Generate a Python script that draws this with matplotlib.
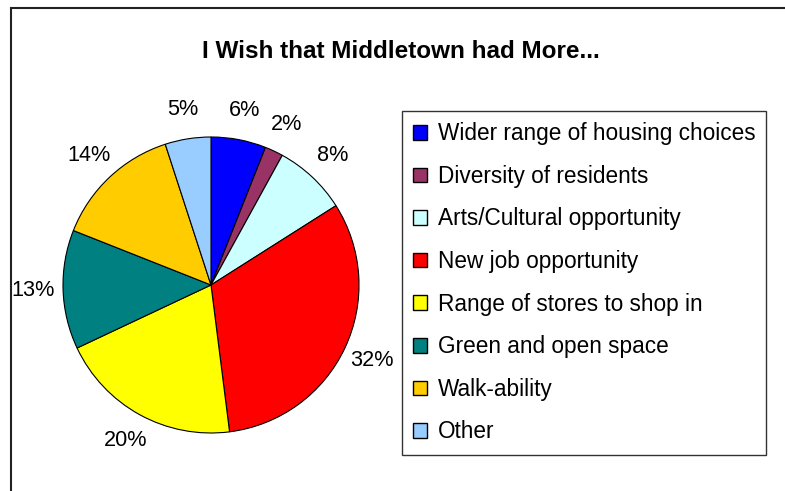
import matplotlib.pyplot as plt
from matplotlib.patches import Rectangle

plt.rcParams['font.family'] = ['Liberation Sans', 'DejaVu Sans']

categories = ["Wider range of housing choices", "Diversity of residents",
              "Arts/Cultural opportunity", "New job opportunity",
              "Range of stores to shop in", "Green and open space",
              "Walk-ability", "Other"]
shares = [6, 2, 8, 32, 20, 13, 14, 5]
colors = ["#0000FF", "#993366", "#CCFFFF", "#FF0000",
          "#FFFF00", "#008080", "#FFCC00", "#99CCFF"]

W, H = 785, 491
fig = plt.figure(figsize=(W / 100, H / 100), dpi=100)

# outer chart frame (runs off the right and bottom edge)
fig.add_artist(Rectangle((11 / W, -0.2), 1.2, 1.2 - 8 / H,
                         transform=fig.transFigure, fill=False,
                         edgecolor="#222222", linewidth=1.5))

fig.text(401 / W, 1 - 51 / H, "I Wish that Middletown had More...",
         ha="center", va="center", fontsize=17.5, fontweight="bold")

cx, cy, r = 211, 285, 148
ax = fig.add_axes([(cx - r) / W, (H - cy - r) / H, 2 * r / W, 2 * r / H])
wedges, _, pcts = ax.pie(shares, colors=colors, startangle=90, counterclock=False,
                         autopct="%d%%", pctdistance=1.2,
                         wedgeprops=dict(edgecolor="black", linewidth=0.8),
                         textprops=dict(fontsize=15.6))
ax.set_xlim(-1, 1)
ax.set_ylim(-1, 1)
ax.set_aspect("equal")

leg = fig.legend(wedges, categories, loc="upper left",
                 bbox_to_anchor=(402 / W, 1 - 111 / H), fontsize=16.3,
                 frameon=True, fancybox=False, edgecolor="black",
                 handlelength=0.62, handleheight=0.62, handletextpad=0.45,
                 labelspacing=0.865, borderpad=0.5, borderaxespad=0)
leg.get_frame().set_linewidth(1.0)
for h in leg.legend_handles:
    h.set_edgecolor("black")
    h.set_linewidth(1.0)

fig.savefig("out.png", dpi=100)
